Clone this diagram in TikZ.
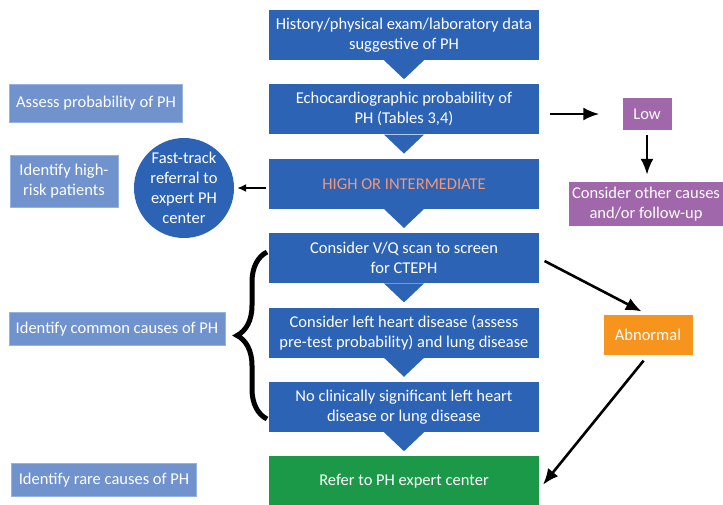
\documentclass[tikz,border=0pt]{standalone}
\usepackage{fontspec}
\setmainfont{Carlito}
\usetikzlibrary{calc}
\usetikzlibrary{positioning}
\usetikzlibrary{arrows.meta}
\usetikzlibrary{decorations.pathreplacing}

\definecolor{phblue}{RGB}{45,99,180}
\definecolor{notefill}{RGB}{112,146,205}
\definecolor{noteedge}{RGB}{150,178,225}
\definecolor{lowpurple}{RGB}{160,103,170}
\definecolor{abnorange}{RGB}{247,148,29}
\definecolor{refgreen}{RGB}{27,153,73}
\definecolor{hightext}{RGB}{243,151,120}

\begin{document}
\begin{tikzpicture}[x=1pt,y=-1pt,
      font=\fontsize{16.5}{20}\selectfont,
      flow style/.style={rectangle,fill=phblue,text=white,align=center,
        minimum width=270pt,minimum height=50pt,inner sep=2pt},
      note style/.style={rectangle,fill=notefill,draw=noteedge,line
        width=0.8pt,text=white,align=center,inner sep=2pt},
      side style/.style={rectangle,text=white,align=center,inner sep=2pt},
      arr style/.style={-{Latex[length=16pt,width=13pt]},line width=2.6pt}
      ]
      \useasboundingbox (0,0) rectangle (723,504);
      % main column
      \node[flow style] (hist) at (404,35) {History/physical exam/laboratory data\\suggestive of PH};
      \node[flow style,below=24pt of hist] (echo) {Echocardiographic probability of\\PH (Tables 3,4)};
      \node[flow style,below=24pt of echo,text=hightext] (high) {HIGH OR INTERMEDIATE};
      \node[flow style,below=24pt of high] (vq) {Consider V/Q scan to screen\\for CTEPH};
      \node[flow style,below=24pt of vq] (lhd) {Consider left heart disease (assess\\pre-test probability) and lung disease};
      \node[flow style,below=24pt of lhd] (nolung) {No clinically significant left heart\\disease or lung disease};
      \node[flow style,below=24pt of nolung,fill=refgreen] (refer) {Refer to PH expert center};
      \foreach \a in {hist,echo,high,vq,lhd,nolung}
        \fill[phblue] ($(\a.south)+(-20,0)$) -- ($(\a.south)+(20,0)$) -- ($(\a.south)+(0,19)$) -- cycle;
      % left column
      \node[note style,minimum width=173pt,minimum height=38pt] (assess) at (96,103) {Assess probability of PH};
      \node[note style,minimum width=108pt,minimum height=52pt] (highrisk) at (64,181) {Identify high-\\risk patients};
      \node[note style,minimum width=216pt,minimum height=33pt] (common) at (117,329) {Identify common causes of PH};
      \node[note style,minimum width=185pt,minimum height=33pt] (rare) at (104,480) {Identify rare causes of PH};
      \node[circle,fill=phblue,text=white,align=center,minimum size=100pt,inner sep=0pt] (fast) at (184,188) {Fast-track\\referral to\\expert PH\\center};
      % right column
      \node[side style,fill=lowpurple,minimum width=49pt,minimum height=32pt] (low) at (647,114) {Low};
      \node[side style,fill=lowpurple,minimum width=154pt,minimum height=44pt] (other) at (646,204) {Consider other causes\\and/or follow-up};
      \node[side style,fill=abnorange,minimum width=89pt,minimum height=40pt] (abn) at (648,335) {Abnormal};
      \draw[arr style,shorten <=11pt,shorten >=23pt] (echo.east |- low.west) -- (low.west);
      \draw[arr style,shorten <=5pt,shorten >=7pt] (low.south) -- (low.south |- other.north);
      \draw[arr style,shorten <=6pt,shorten >=7pt] (vq.east) -- (abn.north);
      \draw[arr style,shorten <=7pt,shorten >=6pt] (abn.south) -- ([yshift=-8pt]refer.east);
      \draw[-{Latex[length=9pt,width=8pt]},line width=1.6pt,shorten <=3pt,shorten >=3pt] (fast.east -| high.west) -- (fast.east);
      \draw[line width=5pt,decorate,decoration={brace,amplitude=30pt,aspect=0.5}] (267,419) -- (267,252);
    \end{tikzpicture}
\end{document}
